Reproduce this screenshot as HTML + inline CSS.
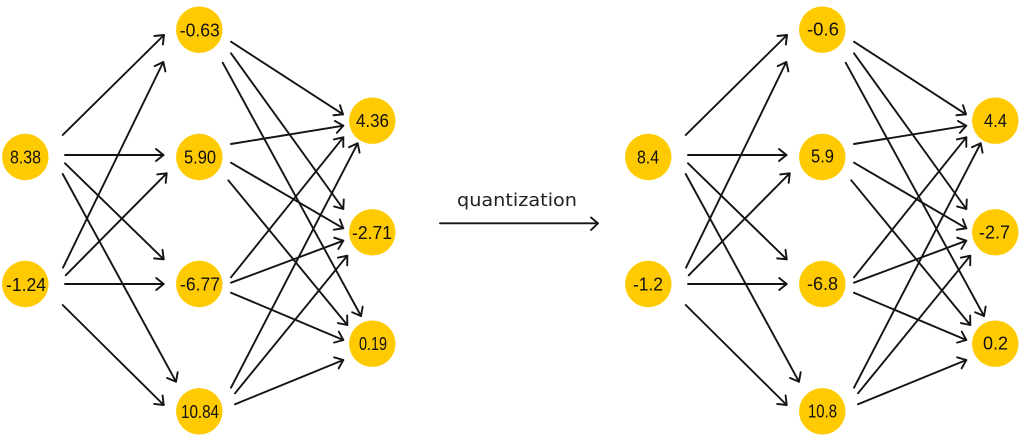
<!DOCTYPE html>
<html>
<head>
<meta charset="utf-8">
<style>
html,body{margin:0;padding:0;background:#fff;width:1024px;height:440px;overflow:hidden}
svg{display:block}
text{font-family:"Liberation Sans",sans-serif;font-size:18px;fill:#111;text-anchor:middle}
text.q{font-family:"DejaVu Sans",sans-serif;font-size:18px;fill:#222}
line,.h{stroke:#141414;stroke-width:1.9;fill:none;stroke-linecap:round;stroke-linejoin:round}
circle{fill:#ffcb00}
</style>
</head>
<body>
<svg width="1024" height="440" viewBox="0 0 1024 440" xmlns="http://www.w3.org/2000/svg">
<defs>
<marker id="a" markerUnits="userSpaceOnUse" markerWidth="20" markerHeight="20" viewBox="-12 -10 20 20" refX="0" refY="0" orient="auto" overflow="visible">
<path class="h" d="M-7.5,-6 L0,0 L-7.5,6"/>
</marker>
</defs>

<g id="left">
<line x1="62.7" y1="135" x2="164" y2="35" marker-end="url(#a)"/>
<line x1="65" y1="155" x2="163.5" y2="155" marker-end="url(#a)"/>
<line x1="65" y1="163.3" x2="163.7" y2="259.3" marker-end="url(#a)"/>
<line x1="62.7" y1="174" x2="176" y2="381.7" marker-end="url(#a)"/>
<line x1="63" y1="267.7" x2="163.3" y2="62" marker-end="url(#a)"/>
<line x1="65.7" y1="275.3" x2="166.7" y2="173.3" marker-end="url(#a)"/>
<line x1="65" y1="284" x2="163.7" y2="284" marker-end="url(#a)"/>
<line x1="62.7" y1="305" x2="163.7" y2="405" marker-end="url(#a)"/>
<line x1="231" y1="41.7" x2="343" y2="114.3" marker-end="url(#a)"/>
<line x1="231" y1="53.3" x2="343.3" y2="209" marker-end="url(#a)"/>
<line x1="222.7" y1="62.7" x2="361" y2="316" marker-end="url(#a)"/>
<line x1="231" y1="144" x2="343.3" y2="125.7" marker-end="url(#a)"/>
<line x1="231" y1="162.7" x2="343.3" y2="228.3" marker-end="url(#a)"/>
<line x1="228.3" y1="180.3" x2="347.3" y2="325" marker-end="url(#a)"/>
<line x1="231" y1="277.3" x2="343.3" y2="137.3" marker-end="url(#a)"/>
<line x1="231" y1="282.7" x2="343.3" y2="240.7" marker-end="url(#a)"/>
<line x1="231" y1="292.7" x2="343.3" y2="340" marker-end="url(#a)"/>
<line x1="231" y1="387.7" x2="357.7" y2="143.3" marker-end="url(#a)"/>
<line x1="235" y1="393.3" x2="347.3" y2="255.7" marker-end="url(#a)"/>
<line x1="235" y1="404.3" x2="343.3" y2="360" marker-end="url(#a)"/>
<circle cx="25.3" cy="157" r="23.2"/>
<circle cx="25.3" cy="284" r="23.2"/>
<circle cx="199.3" cy="29.7" r="23.2"/>
<circle cx="199.3" cy="157" r="23.2"/>
<circle cx="199.3" cy="284" r="23.2"/>
<circle cx="199.3" cy="411.3" r="23.2"/>
<circle cx="372.3" cy="120.7" r="23.2"/>
<circle cx="372.3" cy="232.3" r="23.2"/>
<circle cx="372.3" cy="343.7" r="23.2"/>
<text x="25.5" y="163.5" textLength="31" lengthAdjust="spacingAndGlyphs">8.38</text>
<text x="26" y="291" textLength="40" lengthAdjust="spacingAndGlyphs">-1.24</text>
<text x="199.8" y="36.5" textLength="40" lengthAdjust="spacingAndGlyphs">-0.63</text>
<text x="200" y="163.5" textLength="32" lengthAdjust="spacingAndGlyphs">5.90</text>
<text x="200" y="290.5" textLength="40" lengthAdjust="spacingAndGlyphs">-6.77</text>
<text x="200" y="418" textLength="38" lengthAdjust="spacingAndGlyphs">10.84</text>
<text x="372.5" y="127" textLength="33" lengthAdjust="spacingAndGlyphs">4.36</text>
<text x="372" y="239" textLength="40" lengthAdjust="spacingAndGlyphs">-2.71</text>
<text x="373" y="350" textLength="28" lengthAdjust="spacingAndGlyphs">0.19</text>
</g>

<text class="q" x="517" y="206" textLength="120" lengthAdjust="spacingAndGlyphs">quantization</text>
<line x1="440" y1="223.3" x2="598" y2="223.3"/>
<path class="h" d="M591,217.5 L598,223.3 L591,230"/>

<g id="right">
<line x1="685.7" y1="135" x2="787" y2="35" marker-end="url(#a)"/>
<line x1="688" y1="155" x2="786.5" y2="155" marker-end="url(#a)"/>
<line x1="688" y1="163.3" x2="786.7" y2="259.3" marker-end="url(#a)"/>
<line x1="685.7" y1="174" x2="799" y2="381.7" marker-end="url(#a)"/>
<line x1="686" y1="267.7" x2="786.3" y2="62" marker-end="url(#a)"/>
<line x1="688.7" y1="275.3" x2="789.7" y2="173.3" marker-end="url(#a)"/>
<line x1="688" y1="284" x2="786.7" y2="284" marker-end="url(#a)"/>
<line x1="685.7" y1="305" x2="786.7" y2="405" marker-end="url(#a)"/>
<line x1="854" y1="41.7" x2="966" y2="114.3" marker-end="url(#a)"/>
<line x1="854" y1="53.3" x2="966.3" y2="209" marker-end="url(#a)"/>
<line x1="845.7" y1="62.7" x2="984" y2="316" marker-end="url(#a)"/>
<line x1="854" y1="144" x2="966.3" y2="125.7" marker-end="url(#a)"/>
<line x1="854" y1="162.7" x2="966.3" y2="228.3" marker-end="url(#a)"/>
<line x1="851.3" y1="180.3" x2="970.3" y2="325" marker-end="url(#a)"/>
<line x1="854" y1="277.3" x2="966.3" y2="137.3" marker-end="url(#a)"/>
<line x1="854" y1="282.7" x2="966.3" y2="240.7" marker-end="url(#a)"/>
<line x1="854" y1="292.7" x2="966.3" y2="340" marker-end="url(#a)"/>
<line x1="854" y1="387.7" x2="980.7" y2="143.3" marker-end="url(#a)"/>
<line x1="858" y1="393.3" x2="970.3" y2="255.7" marker-end="url(#a)"/>
<line x1="858" y1="404.3" x2="966.3" y2="360" marker-end="url(#a)"/>
<circle cx="648.3" cy="157" r="23.2"/>
<circle cx="648.3" cy="284" r="23.2"/>
<circle cx="822.3" cy="29.7" r="23.2"/>
<circle cx="822.3" cy="157" r="23.2"/>
<circle cx="822.3" cy="284" r="23.2"/>
<circle cx="822.3" cy="411.3" r="23.2"/>
<circle cx="995.3" cy="120.7" r="23.2"/>
<circle cx="995.3" cy="232.3" r="23.2"/>
<circle cx="995.3" cy="343.7" r="23.2"/>
<text x="648" y="163.5" textLength="22" lengthAdjust="spacingAndGlyphs">8.4</text>
<text x="648" y="290.5" textLength="30" lengthAdjust="spacingAndGlyphs">-1.2</text>
<text x="823" y="35.5" textLength="32" lengthAdjust="spacingAndGlyphs">-0.6</text>
<text x="822.5" y="162.5" textLength="23" lengthAdjust="spacingAndGlyphs">5.9</text>
<text x="822.5" y="290" textLength="31" lengthAdjust="spacingAndGlyphs">-6.8</text>
<text x="822.5" y="417.5" textLength="29" lengthAdjust="spacingAndGlyphs">10.8</text>
<text x="995.5" y="127" textLength="23" lengthAdjust="spacingAndGlyphs">4.4</text>
<text x="994.5" y="238.5" textLength="31" lengthAdjust="spacingAndGlyphs">-2.7</text>
<text x="995.5" y="349.5" textLength="25" lengthAdjust="spacingAndGlyphs">0.2</text>
</g>
</svg>
</body>
</html>
